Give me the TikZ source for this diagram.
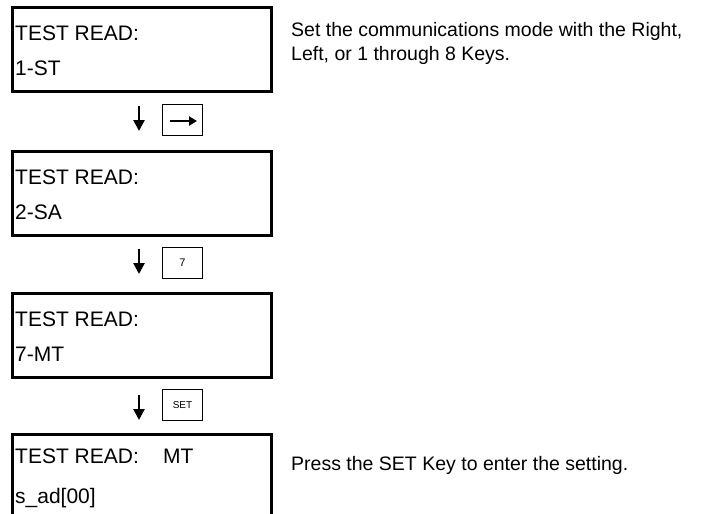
\documentclass[tikz,border=0pt]{standalone}
\usepackage{fontspec}
\setmainfont{Liberation Sans}
\usetikzlibrary{arrows.meta}
\begin{document}
\begin{tikzpicture}[x=1pt,y=-1pt,
  lcd/.style={draw, line width=3pt, minimum width=259pt, minimum height=84pt, anchor=north west, inner sep=0pt},
  lcdtext/.style={anchor=base west, inner sep=0pt, font=\fontsize{21}{21}\selectfont},
  keybox/.style={draw, line width=1.6pt, minimum width=40pt, minimum height=31pt, inner sep=0pt},
  keytext/.style={font=\fontsize{11}{11}\selectfont},
  downarr/.style={line width=2.6pt, -{Triangle[length=11pt,width=11pt]}},
  note/.style={anchor=base west, inner sep=0pt, font=\fontsize{19.5}{22.5}\selectfont}]
\useasboundingbox (0,0) rectangle (716,514);
\clip (0,0) rectangle (716,514);
% boxes
\node[lcd] (b1) at (11,6) {};
\node[lcd] (b2) at (11,150) {};
\node[lcd] (b3) at (11,292) {};
\node[lcd] (b4) at (11,433) {};
% texts in boxes
\node[lcdtext] (t1a) at (15,40) {TEST READ:};
\node[lcdtext] (t1b) at (15,75) {1-ST};
\node[lcdtext] (t2a) at (15,184) {TEST READ:};
\node[lcdtext] (t2b) at (15,219) {2-SA};
\node[lcdtext] (t3a) at (15,326) {TEST READ:};
\node[lcdtext] (t3b) at (15,361) {7-MT};
\node[lcdtext] (t4a) at (15,463) {TEST READ:};
\node[lcdtext] (t4m) at (163,463) {MT};
\node[lcdtext] (t4b) at (15,503) {s\_ad[00]};
% keys
\node[keybox] (k1) at (182.5,120) {};
\node[keybox, keytext] (k2) at (182.5,263) {7};
\node[keybox, keytext, font=\fontsize{10}{10}\selectfont] (k3) at (182.5,405) {SET};
\coordinate (r1s) at (170,121);
\coordinate (r1e) at (197,121);
\draw[line width=2.6pt, -{Triangle[length=8pt,width=9pt]}] (r1s) -- (r1e);
% down arrows
\coordinate (a1s) at (139,106);
\coordinate (a1e) at (139,131);
\coordinate (a2s) at (139,249);
\coordinate (a2e) at (139,274);
\coordinate (a3s) at (139,395);
\coordinate (a3e) at (139,420);
\draw[downarr] (a1s) -- (a1e);
\draw[downarr] (a2s) -- (a2e);
\draw[downarr] (a3s) -- (a3e);
% notes
\node[note] (n1) at (291,37) {Set the communications mode with the Right,};
\node[note] (n1b) at (291,60) {Left, or 1 through 8 Keys.};
\node[note] (n2) at (291,470) {Press the SET Key to enter the setting.};
\end{tikzpicture}
\end{document}
